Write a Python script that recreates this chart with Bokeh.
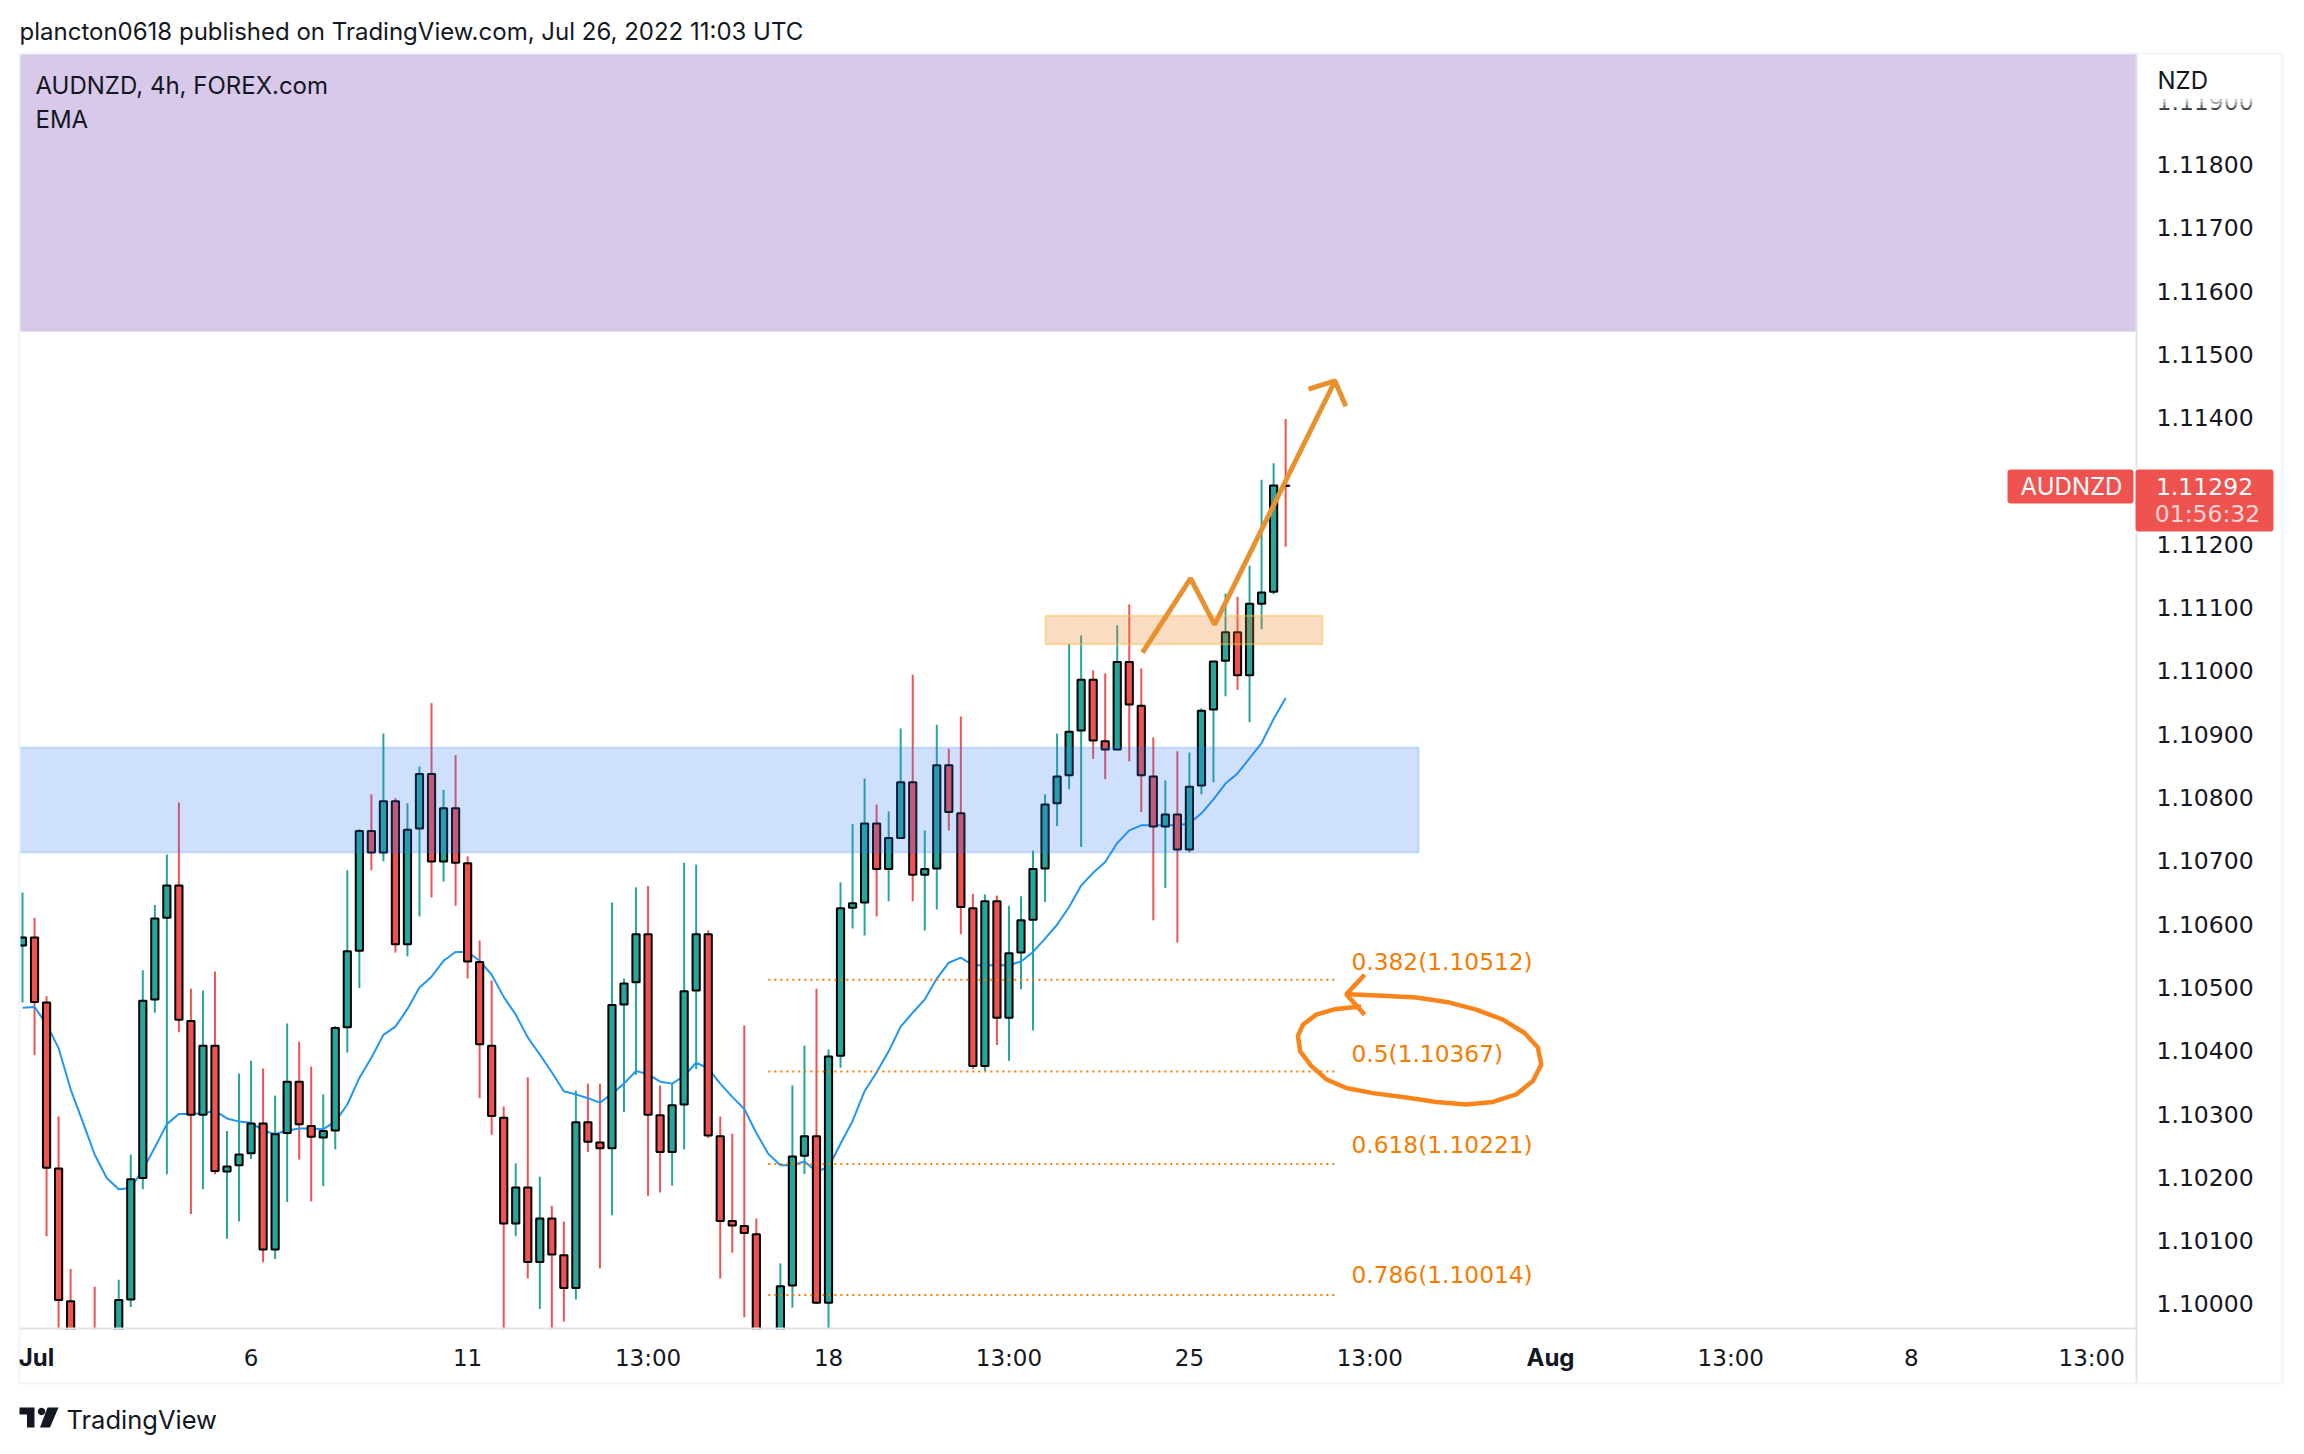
import numpy as np
from bokeh.plotting import figure
from bokeh.models import (ColumnDataSource, Range1d, LinearAxis, FixedTicker, Label,
                          BoxAnnotation, PolyAnnotation, NumeralTickFormatter)
from bokeh.embed import file_html
from bokeh.resources import INLINE

opens = [1.10566,1.10579,1.10476,1.10214,1.10004,1.09900,1.09950,1.09860,1.09900,1.10007,
1.10199,1.10481,1.10610,1.10661,1.10447,1.10299,1.10408,1.10209,1.10219,1.10238,
1.10285,1.10086,1.10270,1.10351,1.10281,1.10263,1.10274,1.10437,1.10558,1.10747,
1.10713,1.10794,1.10568,1.10751,1.10837,1.10699,1.10783,1.10696,1.10540,1.10408,
1.10294,1.10127,1.10184,1.10066,1.10135,1.10077,1.10025,1.10287,1.10255,1.10246,
1.10473,1.10508,1.10584,1.10298,1.10240,1.10315,1.10495,1.10584,1.10265,1.10131,
1.10123,1.10110,1.09930,1.09900,1.10029,1.10234,1.10265,1.10002,1.10392,1.10626,
1.10634,1.10759,1.10687,1.10736,1.10824,1.10678,1.10688,1.10851,1.10775,1.10625,
1.10376,1.10636,1.10452,1.10555,1.10607,1.10688,1.10791,1.10835,1.10906,1.10986,
1.10889,1.10876,1.11014,1.10945,1.10833,1.10754,1.10773,1.10718,1.10819,1.10939,
1.11016,1.11061,1.10993,1.11106,1.11125,1.11293]
closes = [1.10579,1.10477,1.10215,1.10006,1.09900,1.09850,1.09880,1.09930,1.10006,1.10197,
1.10479,1.10609,1.10661,1.10449,1.10299,1.10408,1.10210,1.10217,1.10236,1.10285,
1.10086,1.10268,1.10351,1.10284,1.10264,1.10273,1.10436,1.10557,1.10747,1.10713,
1.10794,1.10568,1.10749,1.10837,1.10699,1.10783,1.10697,1.10541,1.10410,1.10297,
1.10127,1.10184,1.10066,1.10135,1.10078,1.10025,1.10287,1.10256,1.10246,1.10472,
1.10506,1.10584,1.10299,1.10240,1.10314,1.10494,1.10584,1.10266,1.10131,1.10124,
1.10112,1.09930,1.09880,1.10028,1.10233,1.10265,1.10002,1.10391,1.10625,1.10633,
1.10759,1.10687,1.10736,1.10824,1.10678,1.10687,1.10851,1.10777,1.10627,1.10376,
1.10636,1.10452,1.10554,1.10606,1.10687,1.10789,1.10833,1.10904,1.10986,1.10890,
1.10876,1.11014,1.10947,1.10835,1.10754,1.10773,1.10718,1.10817,1.10937,1.11015,
1.11061,1.10993,1.11106,1.11124,1.11293,1.11292]
highs = [1.10650,1.10610,1.10486,1.10296,1.10055,1.09950,1.10027,1.09955,1.10038,1.10236,
1.10527,1.10630,1.10710,1.10792,1.10498,1.10495,1.10525,1.10273,1.10364,1.10384,
1.10372,1.10329,1.10443,1.10414,1.10375,1.10331,1.10439,1.10685,1.10750,1.10805,
1.10901,1.10799,1.10791,1.10849,1.10949,1.10812,1.10867,1.10707,1.10574,1.10511,
1.10312,1.10222,1.10358,1.10201,1.10155,1.10130,1.10337,1.10348,1.10348,1.10634,
1.10514,1.10658,1.10660,1.10345,1.10349,1.10697,1.10694,1.10590,1.10296,1.10269,
1.10440,1.10135,1.09955,1.10064,1.10345,1.10408,1.10498,1.10402,1.10666,1.10758,
1.10830,1.10789,1.10778,1.10909,1.10994,1.10748,1.10915,1.10877,1.10928,1.10648,
1.10647,1.10645,1.10629,1.10644,1.10716,1.10805,1.10901,1.11043,1.11056,1.11001,
1.10996,1.11072,1.11105,1.11004,1.10895,1.10827,1.10873,1.10871,1.10941,1.11016,
1.11122,1.11117,1.11166,1.11302,1.11328,1.11398]
lows = [1.10476,1.10393,1.10107,1.09940,1.09880,1.09820,1.09800,1.09800,1.09870,1.09995,
1.10181,1.10460,1.10205,1.10429,1.10142,1.10181,1.10205,1.10103,1.10130,1.10229,
1.10066,1.10071,1.10161,1.10228,1.10162,1.10186,1.10244,1.10397,1.10499,1.10685,
1.10699,1.10555,1.10549,1.10612,1.10642,1.10667,1.10629,1.10514,1.10325,1.10267,
1.09950,1.10107,1.10040,1.09992,1.09940,1.09972,1.10007,1.10240,1.10056,1.10140,
1.10303,1.10362,1.10171,1.10176,1.10187,1.10244,1.10371,1.10262,1.10040,1.10081,
1.09979,1.09900,1.09850,1.09870,1.09994,1.10205,1.10000,1.09960,1.10373,1.10593,
1.10582,1.10612,1.10636,1.10736,1.10636,1.10590,1.10623,1.10748,1.10584,1.10371,
1.10368,1.10409,1.10384,1.10497,1.10432,1.10635,1.10755,1.10813,1.10722,1.10861,
1.10829,1.10876,1.10857,1.10777,1.10606,1.10657,1.10571,1.10713,1.10805,1.10824,
1.10960,1.10970,1.10919,1.11066,1.11121,1.11196]
ema = [1.10468,1.10469,1.10442,1.10404,1.10339,1.10288,1.10236,1.10199,1.10181,1.10183,
1.10212,1.10247,1.10284,1.10300,1.10300,1.10301,1.10305,1.10293,1.10288,1.10286,
1.10274,1.10268,1.10274,1.10277,1.10277,1.10276,1.10288,1.10315,1.10357,1.10389,
1.10425,1.10438,1.10466,1.10500,1.10517,1.10542,1.10556,1.10556,1.10542,1.10520,
1.10485,1.10457,1.10421,1.10394,1.10366,1.10336,1.10331,1.10325,1.10318,1.10332,
1.10348,1.10368,1.10363,1.10351,1.10348,1.10360,1.10381,1.10372,1.10348,1.10327,
1.10308,1.10270,1.10237,1.10219,1.10219,1.10225,1.10209,1.10216,1.10253,1.10289,
1.10336,1.10366,1.10399,1.10438,1.10460,1.10481,1.10514,1.10539,1.10547,1.10535,
1.10535,1.10535,1.10535,1.10541,1.10556,1.10577,1.10599,1.10627,1.10661,1.10681,
1.10698,1.10728,1.10748,1.10756,1.10756,1.10756,1.10756,1.10759,1.10775,1.10797,
1.10822,1.10838,1.10862,1.10886,1.10924,1.10957]

price_ticks = [1.100,1.101,1.102,1.103,1.104,1.105,1.106,1.107,1.108,1.109,1.110,1.111,
               1.112,1.113,1.114,1.115,1.116,1.117,1.118,1.119]
date_ticks = [19, 37, 52, 67, 82, 97, 112, 142, 157, 172]
date_labels = ["6", "11", "13:00", "18", "13:00", "25", "13:00", "13:00", "8", "13:00"]
bold_labels = [("Jul", 37), ("Aug", 1551)]

fib_names = ["0.382(1.10512)", "0.5(1.10367)", "0.618(1.10221)", "0.786(1.10014)"]
fib_levels = [1.10512, 1.10367, 1.10221, 1.10014]
fib_label_lift = [18, 18, 20, 21]
fib_x = [62.0, 109.06]

path_x = [93.1, 97.1, 99.1, 109.1]
path_y = [1.11029, 1.11146, 1.11073, 1.11458]
head_x = [106.9, 109.1, 110.0]
head_y = [1.11445, 1.11458, 1.11418]
loop_x = [111.28,109.2,107.54,106.43,106.02,106.21,107.13,108.37,110.04,112.25,115.02,117.52,120.01,
          122.23,124.17,125.55,126.25,125.97,124.86,123.06,120.84,118.63,115.85,113.08,110.17]
loop_y = [1.10470,1.10466,1.10457,1.10441,1.10423,1.10399,1.10376,1.10355,1.10341,1.10333,1.10326,
          1.10319,1.10315,1.10319,1.10331,1.10352,1.10378,1.10405,1.10428,1.10449,1.10465,1.10476,
          1.10484,1.10487,1.10489]
loop_head_x = [111.56, 110.04, 111.56]
loop_head_y = [1.10520, 1.10489, 1.10457]

GREEN, RED, INK = "#26a69a", "#ef5350", "#131722"
FONT, NUM = "Inter", "DejaVu Sans"
OX, OY = 1, 1
W, H = 2288, 1438

def fx(px):
    return (px - 23) / 12.03
def fy(py):
    return 1.118 - (py - 165) / 63300

p = figure(frame_width=W, frame_height=H, output_backend="svg", toolbar_location=None,
           x_range=Range1d(fx(OX), fx(OX + W)), y_range=Range1d(fy(OY + H), fy(OY)),
           x_axis_location=None, y_axis_location=None, min_border=0,
           background_fill_color="white", border_fill_color="white", outline_line_color=None)
p.grid.visible = False

yaxis = LinearAxis(ticker=FixedTicker(ticks=price_ticks), major_tick_line_color=None, minor_tick_line_color=None,
                   major_tick_out=0, major_tick_in=0, axis_line_color=None,
                   major_label_standoff=2157 - (OX + W),
                   major_label_text_font=NUM, major_label_text_font_size="23.5px",
                   major_label_text_color=INK, formatter=NumeralTickFormatter(format="0.00000"))
p.add_layout(yaxis, "right")
xaxis = LinearAxis(ticker=FixedTicker(ticks=date_ticks), major_tick_line_color=None, minor_tick_line_color=None,
                   major_tick_out=0, major_tick_in=0, axis_line_color=None,
                   major_label_overrides=dict(zip(date_ticks, date_labels)),
                   major_label_standoff=1345 - (OY + H),
                   major_label_text_font=NUM, major_label_text_font_size="23px",
                   major_label_text_color=INK)
p.add_layout(xaxis, "below")

p.add_layout(BoxAnnotation(left=fx(20), right=fx(2137), top=fy(54), bottom=1.11536, level="underlay",
                           fill_color="#d8c9eb", fill_alpha=1, line_color="#e2d9ef", line_width=1))

idx = np.arange(len(opens))
o, c, h, l = map(np.array, (opens, closes, highs, lows))
cols = np.where(c >= o, GREEN, RED)
src = ColumnDataSource(dict(x=idx, top=np.maximum(o, c), bottom=np.minimum(o, c), high=h, low=l, color=cols))

p.segment("x", "high", "x", "low", source=src, line_color="color", line_width=2)
p.line(idx, ema, line_color="#2196f3", line_width=2)
p.vbar("x", top="top", bottom="bottom", width=0.6, source=src, fill_color="color", line_color="black", line_width=2)

p.quad(left=[fx(10)], right=[116.05], top=[1.10879], bottom=[1.10713], fill_color="#3179f5", fill_alpha=0.23,
       line_color="#3179f5", line_alpha=0.2, line_width=2)
p.quad(left=[85.04], right=[108.06], top=[1.11087], bottom=[1.11042], fill_color="#ee8329", fill_alpha=0.28,
       line_color="#f9c24f", line_alpha=0.5, line_width=2)

for lvl in fib_levels:
    p.line(fib_x, [lvl, lvl], line_color="#f57c00", line_width=2, line_dash="2 4")

p.line(path_x, path_y, line_color="#e8922f", line_width=5)
p.line(head_x, head_y, line_color="#e8922f", line_width=5)
p.line(loop_x, loop_y, line_color="#f9841a", line_width=4.5)
p.line(loop_head_x, loop_head_y, line_color="#f9841a", line_width=4.5)

# the pane ends at its left and bottom edges: white above the candles, under the axes
p.quad(left=[fx(OX)], right=[fx(OX + W)], top=[fy(1330)], bottom=[fy(OY + H)], fill_color="white", line_alpha=0)
p.quad(left=[fx(OX)], right=[fx(20)], top=[fy(OY)], bottom=[fy(OY + H)], fill_color="white", line_alpha=0)

def box(l_, r_, t_, b_, color="white", alpha=1.0, radius=0):
    p.add_layout(BoxAnnotation(left=l_ - OX, right=r_ - OX, top=t_ - OY, bottom=b_ - OY,
                               left_units="canvas", right_units="canvas", top_units="canvas", bottom_units="canvas",
                               fill_color=color, fill_alpha=alpha, line_alpha=0, border_radius=radius))

def text(s, x, y, size="24px", color=INK, align="left", style="normal", font=FONT):
    p.add_layout(Label(x=x - OX, y=y - OY, x_units="canvas", y_units="canvas", text=s, text_font=font,
                       text_font_size=size, text_color=color, text_baseline="middle", text_align=align,
                       text_font_style=style))

# price scale head with fading tick
box(2140, 2280, 55, 100)
box(2140, 2280, 100, 103, alpha=0.8)
box(2140, 2280, 103, 106, alpha=0.6)
box(2140, 2280, 106, 109, alpha=0.35)
box(2140, 2280, 109, 112, alpha=0.15)
text("NZD", 2158, 81)

# last price tags
box(2008, 2134, 470, 504, color="#ef5350", radius=3)
box(2136, 2274, 470, 532, color="#ef5350", radius=3)
text("AUDNZD", 2072, 487, color="white", align="center")
text("1.11292", 2205, 487, color="white", align="center", font=NUM, size="23.5px")
text("01:56:32", 2208, 514, color="#fbd5d4", align="center", font=NUM, size="23.5px")

# pane dividers and outer border
box(20, 2137, 1328, 1330, color="#e0e3eb")
box(2136, 2138, 54, 470, color="#e0e3eb")
box(2136, 2138, 532, 1384, color="#e0e3eb")
for b in [(20, 2283, 53, 55), (20, 2283, 1383, 1385), (19, 21, 53, 1385), (2282, 2284, 53, 1385)]:
    box(b[0], b[1], b[2], b[3], color="#f0f3fa")

for name, lvl, lift in zip(fib_names, fib_levels, fib_label_lift):
    py = 165 + (1.118 - lvl) * 63300
    text(name, 1352, py - lift, size="23.3px", color="#f57c00", font=NUM)
text("plancton0618 published on TradingView.com, Jul 26, 2022 11:03 UTC", 20, 32)
text("AUDNZD, 4h, FOREX.com", 36, 86)
text("EMA", 36, 120)
for s, x in bold_labels:
    text(s, x, 1358, align="center", style="bold")
text("TradingView", 67, 1420, size="25.5px")

# logo
def poly(xs, ys):
    p.add_layout(PolyAnnotation(xs=[float(v - OX) for v in xs], ys=[float(v - OY) for v in ys],
                                xs_units="canvas", ys_units="canvas",
                                fill_color=INK, fill_alpha=1, line_alpha=0))
poly((20, 35, 35, 27.5, 27.5, 20), (1408, 1408, 1428, 1428, 1415, 1415))
t = np.linspace(0, 2 * np.pi, 24)
poly(42 + 3.7 * np.cos(t), 1412 + 3.7 * np.sin(t))
poly((48, 59, 50.5, 40.5), (1408, 1408, 1428, 1428))

open("out.html", "w").write(file_html(p, INLINE))
